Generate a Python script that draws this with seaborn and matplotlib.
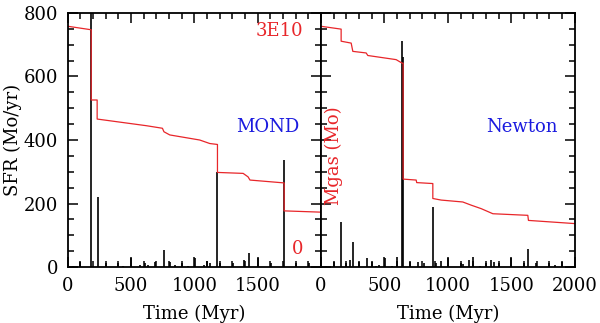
import numpy as np
import pandas as pd
import matplotlib
matplotlib.use("Agg")
import matplotlib.pyplot as plt
import seaborn as sns
from matplotlib.ticker import MultipleLocator

# Gas mass curves (scaled so 800 on the SFR axis = 3E10 Mo)
mond_gas_t = [0, 185, 185, 232, 232, 622, 748, 760, 806, 1043, 1122, 1183,
              1183, 1386, 1425, 1440, 1710, 1710, 2000]
mond_gas = [758, 747, 526, 526, 466, 445, 437, 426, 416, 400, 389, 386,
            298, 295, 284, 274, 265, 177, 173]
newt_gas_t = [0, 160, 160, 239, 252, 357, 370, 593, 640, 648, 648, 751,
              755, 882, 882, 948, 1118, 1184, 1263, 1355, 1630, 1635, 2000]
newt_gas = [758, 749, 711, 705, 679, 674, 666, 653, 642, 642, 277, 274,
            266, 263, 216, 211, 205, 195, 184, 168, 163, 147, 137]

# star formation rate bursts (Mo/yr)
mond_sfr_t = [42, 100, 185, 240, 300, 398, 437, 498, 569, 609, 635, 693, 762,
              806, 846, 904, 951, 1004, 1075, 1101, 1122, 1183, 1207, 1302,
              1394, 1433, 1504, 1605, 1710, 1802, 1905]
mond_sfr = [5, 16, 800, 221, 13, 13, 5, 29, 8, 13, 8, 15, 55,
            15, 8, 12, 5, 29, 8, 19, 13, 300, 12, 12,
            23, 44, 29, 12, 337, 12, 12]
newt_sfr_t = [42, 100, 160, 200, 231, 257, 299, 365, 402, 436, 462, 502, 562,
              599, 640, 648, 704, 764, 809, 887, 909, 943, 1003, 1100, 1120,
              1163, 1202, 1250, 1297, 1342, 1362, 1402, 1496, 1598, 1635,
              1696, 1795, 1846, 1898]
newt_sfr = [5, 16, 143, 12, 21, 78, 15, 29, 15, 5, 8, 29, 5,
            32, 711, 661, 15, 15, 12, 189, 12, 19, 29, 14, 10,
            23, 32, 5, 12, 23, 16, 14, 29, 12, 58,
            14, 14, 8, 15]

sns.set_style("ticks")
plt.rcParams['font.family'] = ['DejaVu Serif']
plt.rcParams['font.size'] = 13

fig = plt.figure(figsize=(6, 3.23), dpi=100)
ax1 = fig.add_axes([0.113, 0.173, 0.4217, 0.787])
ax2 = fig.add_axes([0.5347, 0.173, 0.4233, 0.787])

panels = [
    (ax1, mond_gas_t, mond_gas, mond_sfr_t, mond_sfr, "MOND"),
    (ax2, newt_gas_t, newt_gas, newt_sfr_t, newt_sfr, "Newton"),
]
for ax, gt, gv, st, sv, name in panels:
    gas = pd.DataFrame({"t": gt, "m": gv})
    ax.vlines(st, 0, sv, color="black", lw=1.2)
    sns.lineplot(data=gas, x="t", y="m", ax=ax, color="#e8262a", lw=0.9,
                 estimator=None, sort=False)
    ax.set_xlim(0, 2000)
    ax.set_ylim(0, 800)
    ax.xaxis.set_major_locator(MultipleLocator(500))
    ax.xaxis.set_minor_locator(MultipleLocator(100))
    ax.yaxis.set_major_locator(MultipleLocator(200))
    ax.yaxis.set_minor_locator(MultipleLocator(50))
    ax.tick_params(axis="both", which="major", direction="in", top=True,
                   right=True, length=7.5, width=1.1, color="black",
                   labelcolor="black", labelsize=13, pad=7)
    ax.tick_params(axis="both", which="minor", direction="in", top=True,
                   right=True, length=4, width=1.1, color="black")
    for s in ax.spines.values():
        s.set_linewidth(1.3)
        s.set_color("black")
    ax.set_xlabel("Time (Myr)", fontsize=13, labelpad=7, color="black")
    ax.text(0.79, 0.55, name, transform=ax.transAxes, color="#1a1adf",
            ha="center", va="center", fontsize=13)

ax1.set_xticks([0, 500, 1000, 1500])
ax1.set_ylabel("SFR (Mo/yr)", fontsize=13, labelpad=1, color="black")
ax1.text(0.93, 0.93, "3E10", transform=ax1.transAxes, color="#e8262a",
         ha="right", va="center", fontsize=13)
ax1.text(0.93, 0.07, "0", transform=ax1.transAxes, color="#e8262a",
         ha="right", va="center", fontsize=13)

ax2.set_ylabel("")
ax2.set_yticklabels([])
ax2.text(0.05, 0.44, "Mgas (Mo)", transform=ax2.transAxes, color="#e8262a",
         rotation=90, ha="center", va="center", fontsize=13)

fig.savefig("out.png", dpi=100)
